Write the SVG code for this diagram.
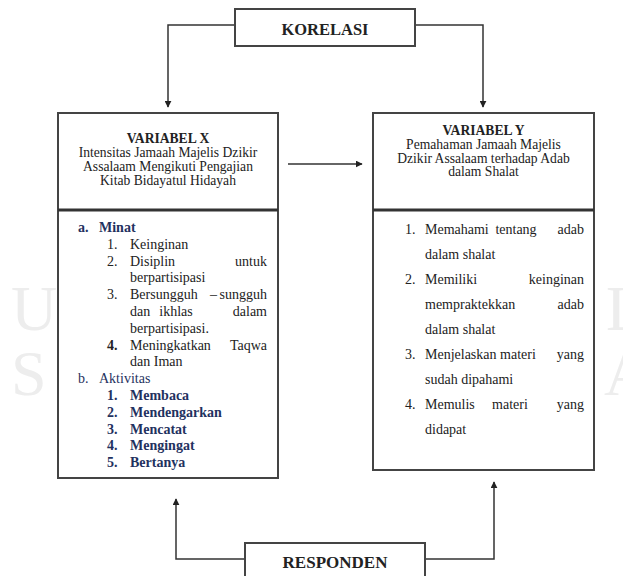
<svg xmlns="http://www.w3.org/2000/svg" width="623" height="576" viewBox="0 0 623 576">
<style>
text{font-family:"Liberation Serif","Times New Roman",serif;fill:#222;}
.box{fill:#fff;stroke:#444;stroke-width:2;}
.div{stroke:#333;stroke-width:3;}
.con{fill:none;stroke:#333;stroke-width:1.5;}
.t{font-size:14px;}
.h{font-size:13.6px;}
.b{font-weight:bold;}
.n{fill:#1f3260;}
.c{text-anchor:middle;}
.e{text-anchor:end;}
.wm{font-size:64px;fill:#ededed;}
</style>
<defs>
<marker id="ah" viewBox="0 0 10 10" refX="9" refY="5" markerWidth="7" markerHeight="7" markerUnits="userSpaceOnUse" orient="auto">
<path d="M0,0 L10,5 L0,10 z" fill="#222"/>
</marker>
</defs>
<rect width="623" height="576" fill="#fff"/>
<g id="watermark">
<text class="wm" x="11" y="330">U</text>
<text class="wm" x="11" y="395">S</text>
<text class="wm" x="606" y="330">L</text>
<text class="wm" x="604" y="395">A</text>
</g>
<g id="connectors">
<polyline class="con" points="235,25 168,25 168,107" marker-end="url(#ah)"/>
<polyline class="con" points="415,25 483,25 483,107" marker-end="url(#ah)"/>
<line class="con" x1="288" y1="164" x2="362" y2="164" marker-end="url(#ah)"/>
<polyline class="con" points="245,559 176,559 176,499" marker-end="url(#ah)"/>
<polyline class="con" points="425,559 494,559 494,482" marker-end="url(#ah)"/>
</g>
<g id="korelasi">
<rect class="box" x="235" y="9" width="180" height="37"/>
<text class="b c" x="325" y="35" font-size="16.5">KORELASI</text>
</g>
<g id="variabel-x">
<rect class="box" x="58" y="113" width="220" height="365"/>
<line class="div" x1="58" y1="210" x2="278" y2="210"/>
<text class="h b c" x="168" y="143">VARIABEL X</text>
<text class="h c" x="168" y="157">Intensitas Jamaah Majelis Dzikir</text>
<text class="h c" x="168" y="171">Assalaam Mengikuti Pengajian</text>
<text class="h c" x="168" y="185">Kitab Bidayatul Hidayah</text>
<text class="t b n" x="78" y="232">a.</text><text class="t b n" x="99" y="232">Minat</text>
<text class="t" x="107" y="248.8">1.</text><text class="t" x="130" y="248.8">Keinginan</text>
<text class="t" x="107" y="265.6">2.</text><text class="t" x="130" y="265.6">Disiplin</text><text class="t e" x="267" y="265.6">untuk</text>
<text class="t" x="130" y="282.4">berpartisipasi</text>
<text class="t" x="107" y="299.2">3.</text><text class="t" x="130" y="299.2">Bersungguh</text><text class="t" x="210" y="299.2">–</text><text class="t e" x="267" y="299.2">sungguh</text>
<text class="t" x="130" y="316">dan</text><text class="t c" x="176" y="316">ikhlas</text><text class="t e" x="267" y="316">dalam</text>
<text class="t" x="130" y="332.8">berpartisipasi.</text>
<text class="t b" x="107" y="349.6">4.</text><text class="t" x="130" y="349.6">Meningkatkan</text><text class="t e" x="267" y="349.6">Taqwa</text>
<text class="t" x="130" y="366.4">dan Iman</text>
<text class="t n" x="78" y="383.2">b.</text><text class="t n" x="99" y="383.2">Aktivitas</text>
<text class="t b n" x="107" y="400">1.</text><text class="t b n" x="130" y="400">Membaca</text>
<text class="t b n" x="107" y="416.8">2.</text><text class="t b n" x="130" y="416.8">Mendengarkan</text>
<text class="t b n" x="107" y="433.6">3.</text><text class="t b n" x="130" y="433.6">Mencatat</text>
<text class="t b n" x="107" y="450.4">4.</text><text class="t b n" x="130" y="450.4">Mengingat</text>
<text class="t b n" x="107" y="467.2">5.</text><text class="t b n" x="130" y="467.2">Bertanya</text>
</g>
<g id="variabel-y">
<rect class="box" x="373" y="113" width="221" height="357"/>
<line class="div" x1="373" y1="210" x2="594" y2="210"/>
<text class="h b c" x="483.5" y="135">VARIABEL Y</text>
<text class="h c" x="483.5" y="149">Pemahaman Jamaah Majelis</text>
<text class="h c" x="483.5" y="162.5">Dzikir Assalaam terhadap Adab</text>
<text class="h c" x="483.5" y="176">dalam Shalat</text>
<text class="t" x="405" y="234">1.</text><text class="t" x="425" y="234">Memahami</text><text class="t c" x="516" y="234">tentang</text><text class="t e" x="584" y="234">adab</text>
<text class="t" x="425" y="259">dalam shalat</text>
<text class="t" x="405" y="284">2.</text><text class="t" x="425" y="284">Memiliki</text><text class="t e" x="584" y="284">keinginan</text>
<text class="t" x="425" y="309">mempraktekkan</text><text class="t e" x="584" y="309">adab</text>
<text class="t" x="425" y="334">dalam shalat</text>
<text class="t" x="405" y="359">3.</text><text class="t" x="425" y="359">Menjelaskan</text><text class="t c" x="518" y="359">materi</text><text class="t e" x="584" y="359">yang</text>
<text class="t" x="425" y="384">sudah dipahami</text>
<text class="t" x="405" y="409">4.</text><text class="t" x="425" y="409">Memulis</text><text class="t c" x="510" y="409">materi</text><text class="t e" x="584" y="409">yang</text>
<text class="t" x="425" y="434">didapat</text>
</g>
<g id="responden">
<rect class="box" x="245" y="543" width="180" height="45"/>
<text class="b c" x="335" y="568" font-size="17">RESPONDEN</text>
</g>
</svg>
